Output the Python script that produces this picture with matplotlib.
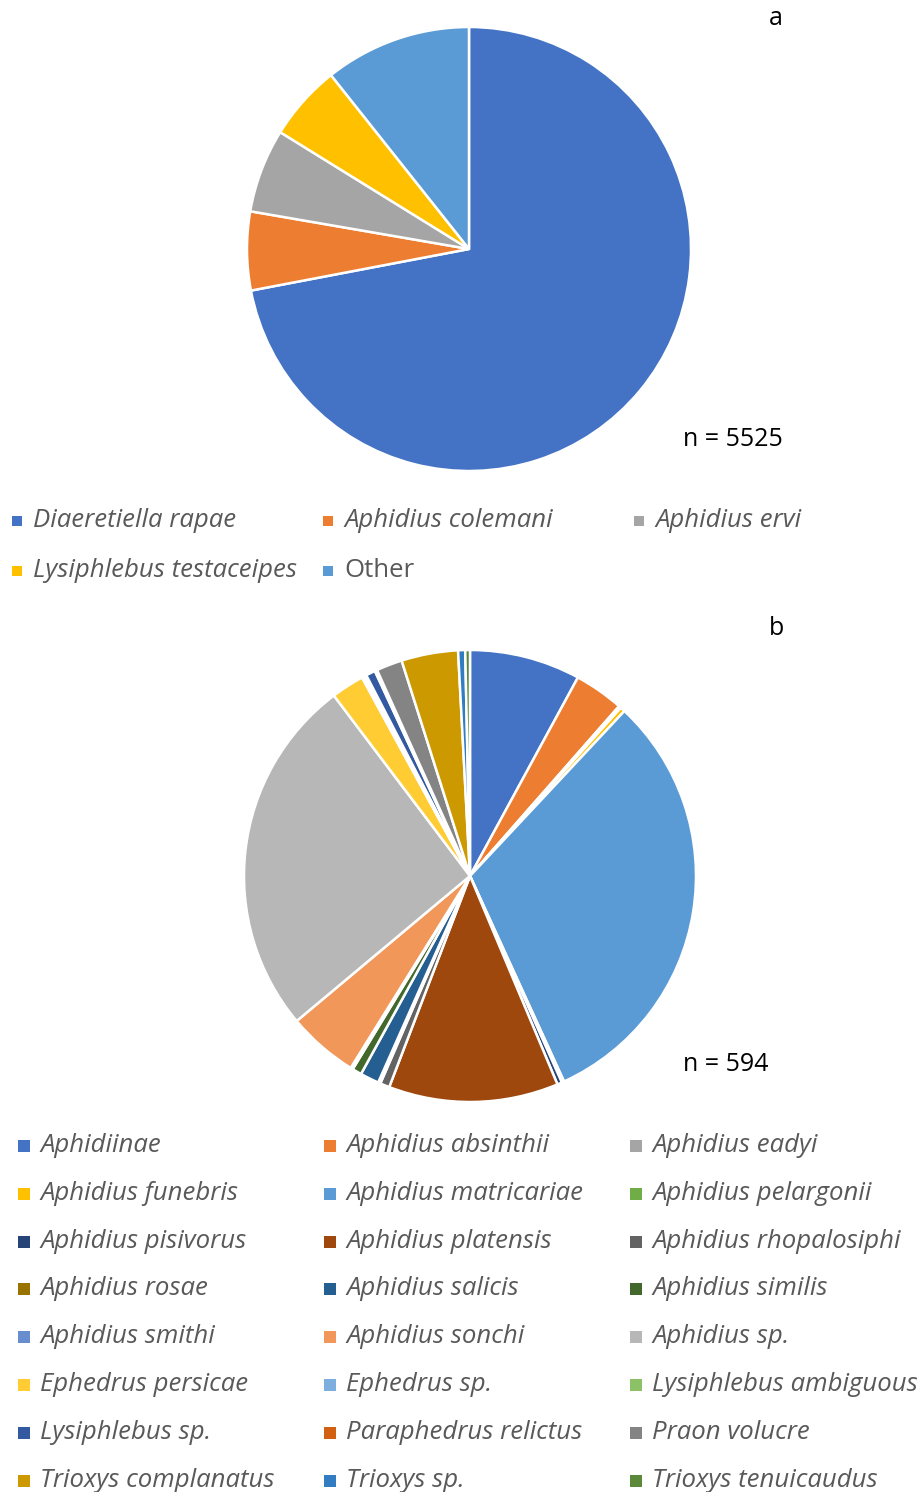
import matplotlib
matplotlib.use("Agg")
import matplotlib.pyplot as plt
from matplotlib.patches import Rectangle

plt.rcParams['font.family'] = ['Open Sans', 'DejaVu Sans']

# panel a data
names_a = ['Diaeretiella rapae', 'Aphidius colemani', 'Aphidius ervi',
           'Lysiphlebus testaceipes', 'Other']
counts_a = [3978, 316, 337, 304, 590]
colors_a = ['#4472C4', '#ED7D31', '#A5A5A5', '#FFC000', '#5B9BD5']
italic_a = [True, True, True, True, False]

# panel b data
names_b = ['Aphidiinae', 'Aphidius absinthii', 'Aphidius eadyi',
           'Aphidius funebris', 'Aphidius matricariae', 'Aphidius pelargonii',
           'Aphidius pisivorus', 'Aphidius platensis', 'Aphidius rhopalosiphi',
           'Aphidius rosae', 'Aphidius salicis', 'Aphidius similis',
           'Aphidius smithi', 'Aphidius sonchi', 'Aphidius sp.',
           'Ephedrus persicae', 'Ephedrus sp.', 'Lysiphlebus ambiguous',
           'Lysiphlebus sp.', 'Paraphedrus relictus', 'Praon volucre',
           'Trioxys complanatus', 'Trioxys sp.', 'Trioxys tenuicaudus']
counts_b = [47, 21, 1, 2, 185, 1, 2, 72, 4, 1, 8, 4,
            1, 30, 153, 14, 1, 1, 4, 1, 11, 24, 3, 2]
colors_b = ['#4472C4', '#ED7D31', '#A5A5A5', '#FFC000', '#5B9BD5', '#70AD47',
            '#264478', '#9E480E', '#636363', '#997300', '#255E91', '#43682B',
            '#698ED0', '#F1975A', '#B7B7B7', '#FFCD33', '#7CAFDD', '#8CC168',
            '#335AA1', '#D26012', '#848484', '#CC9A00', '#327DC2', '#5A8A39']

W, H = 922, 1492
fig = plt.figure(figsize=(W / 100, H / 100), dpi=100)
fig.patch.set_facecolor('white')


def pie_axes(cx, cy, r):
    return fig.add_axes([(cx - r) / W, (H - cy - r) / H, 2 * r / W, 2 * r / H])


def draw_pie(ax, vals, cols):
    ax.pie(vals, colors=cols, startangle=90, counterclock=False,
           wedgeprops=dict(edgecolor='white', linewidth=1.8))
    ax.set_xlim(-1, 1)
    ax.set_ylim(-1, 1)
    ax.set_aspect('auto')
    ax.axis('off')


def legend(names, cols, italics, x0, base0, dx, dy, msize, fs):
    # x0: marker centre of first column, base0: text baseline of first row
    for i, nm in enumerate(names):
        row, col = divmod(i, 3)
        x = x0 + col * dx
        yb = base0 + row * dy
        ym = yb - 6
        fig.patches.append(Rectangle(((x - msize / 2) / W, (H - ym - msize / 2) / H),
                                     msize / W, msize / H,
                                     transform=fig.transFigure, facecolor=cols[i],
                                     edgecolor='none'))
        fig.text((x + 16) / W, (H - yb) / H, nm, fontsize=fs, color='#595959',
                 style='italic' if italics[i] else 'normal', va='baseline', ha='left')


ax_a = pie_axes(469, 249, 222)
draw_pie(ax_a, counts_a, colors_a)
ax_b = pie_axes(470, 876, 226)
draw_pie(ax_b, counts_b, colors_b)

legend(names_a, colors_a, italic_a, 17, 527, 311, 50, 10, 18.5)
legend(names_b, colors_b, [True] * len(names_b), 24, 1152, 306, 47.8, 12, 18.5)

fig.text(776 / W, (H - 25) / H, 'a', fontsize=18, color='black', ha='center', va='baseline')
fig.text(776 / W, (H - 635) / H, 'b', fontsize=18, color='black', ha='center', va='baseline')
fig.text(683 / W, (H - 446) / H, 'n = 5525', fontsize=18, color='black', ha='left', va='baseline')
fig.text(683 / W, (H - 1071) / H, 'n = 594', fontsize=18, color='black', ha='left', va='baseline')

fig.savefig('out.png', dpi=100, facecolor='white')
